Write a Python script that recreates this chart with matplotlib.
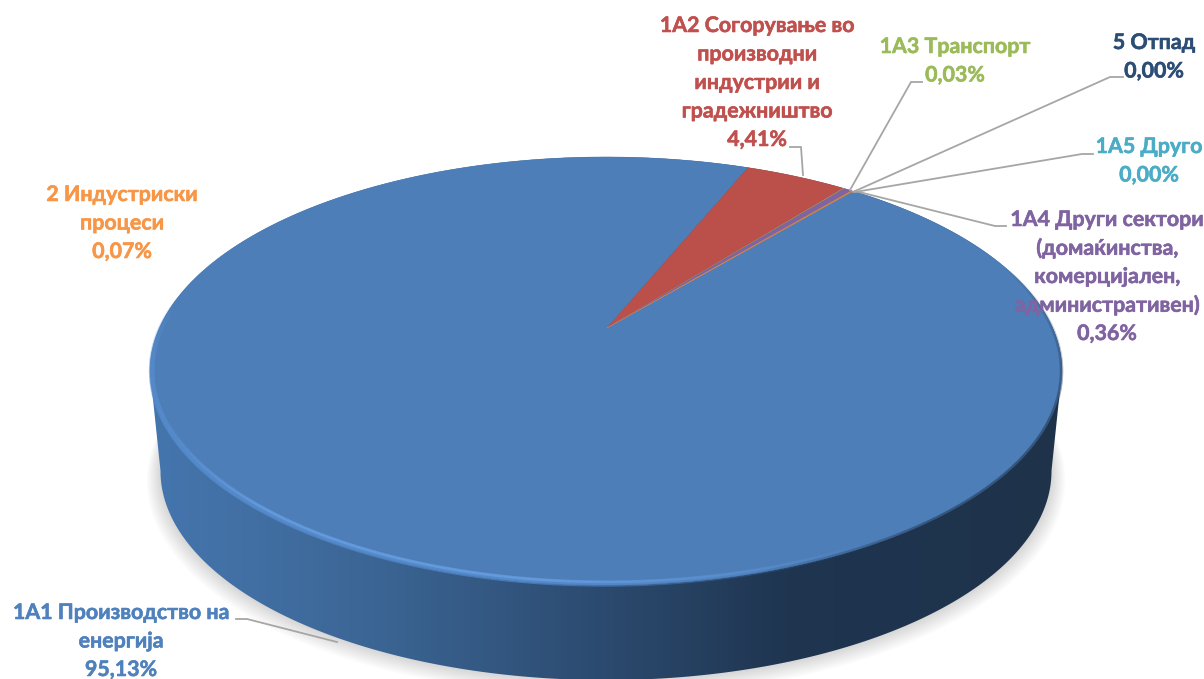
import numpy as np
import matplotlib
matplotlib.use("Agg")
import matplotlib.pyplot as plt
import matplotlib.patheffects as pe
from matplotlib.patches import Polygon
from matplotlib.collections import LineCollection
from matplotlib.colors import LinearSegmentedColormap, to_rgb

plt.rcParams['font.family'] = ['Lato', 'Open Sans', 'DejaVu Sans']

# data
labels = ["1A1 Производство на\nенергија", "1A2 Согорување во\nпроизводни\nиндустрии и\nградежништво",
          "1A3 Транспорт", "1A4 Други сектори\n(домаќинства,\nкомерцијален,\nадминистративен)",
          "1A5 Друго", "2 Индустриски\nпроцеси", "5 Отпад"]
values = [95.13, 4.41, 0.03, 0.36, 0.00, 0.07, 0.00]
pct_text = ["95,13%", "4,41%", "0,03%", "0,36%", "0,00%", "0,07%", "0,00%"]

face_colors = ["#4d7eb8", "#bb4f4a", "#9bbb59", "#8064a2", "#4bacc6", "#e08a45", "#2c4d75"]
text_colors = ["#4f81bd", "#c0504d", "#9bbb59", "#8064a2", "#4bacc6", "#f79646", "#2c4d75"]

# label centre x, y of first line
label_pos = [(121, 613), (757, 26), (955, 47), (1107, 220), (1149, 147), (122, 195), (1154, 43)]

# leader lines
leaders = [
    [(236, 619), (247, 619), (337, 642)],
    [(790, 147), (801, 147), (803, 175)],
    [(922, 82), (911, 82), (850, 190)],
    [(1006, 226), (995, 226), (855, 191)],
    [(1093, 154), (1082, 154), (855, 192)],
    None,
    [(1123, 77), (1110, 77), (853, 192)],
]

# perspective of the disc, in pixels
cx, apex_y, k, b, R = 606, 328, 0.2009, -139.5, 446.7
mid_y, shrink, bottom_mid = 371, 0.977, 471
start_angle = 39.7


def rim(theta, r=1.0):
    t = np.radians(theta)
    u, v = r * np.sin(t), r * np.cos(t)
    d = 1 + k * v
    return cx + R * u / d, (apex_y + b * v) / d


def bottom_rim(theta, grow=0.0):
    x, y = rim(theta)
    return cx + (shrink + grow) * (x - cx), bottom_mid + (shrink + grow) * (y - mid_y)


fig = plt.figure(figsize=(12.04, 6.79), dpi=100)
ax = fig.add_axes([0, 0, 1, 1])
ax.set_xlim(0, 1204)
ax.set_ylim(679, 0)
ax.axis("off")

th = np.linspace(0, 360, 1441)

# soft shadow
for g, off in zip(np.linspace(0.030, 0.002, 10), np.linspace(10, 1, 10)):
    sx, sy = bottom_rim(th, g)
    ax.add_patch(Polygon(np.column_stack((sx, sy + off)), closed=True, fc="black",
                         ec="none", alpha=0.014, zorder=1))

# side wall
tx, ty = rim(th)
bx, by = bottom_rim(th)
il, ir = np.argmin(tx), np.argmax(tx)
low_b = np.arange(il, ir - 1, -1)  # left to right along the front
up_t = np.r_[np.arange(ir, -1, -1), np.arange(len(th) - 1, il - 1, -1)]
side_pts = np.vstack((np.column_stack((bx[low_b], by[low_b])),
                      np.column_stack((tx[up_t], ty[up_t]))))
side = Polygon(side_pts, closed=True, fc="none", ec="none", zorder=2)
ax.add_patch(side)
side_cmap = LinearSegmentedColormap.from_list("side", [
    (0.00, "#4475ad"), (0.10, "#4270a5"), (0.27, "#3a6391"), (0.49, "#2c4b70"),
    (0.70, "#1f3550"), (1.00, "#1e324a")])
img = ax.imshow(np.linspace(0, 1, 512).reshape(1, -1), cmap=side_cmap, aspect="auto",
                extent=(tx.min(), tx.max(), 679, 150), zorder=2, vmin=0, vmax=1)
img.set_clip_path(side)
ax.set_xlim(0, 1204)
ax.set_ylim(679, 0)

# top face, one polygon per slice
a0 = start_angle
for val, col in zip(values, face_colors):
    a1 = a0 + val * 3.6
    if val > 0:
        t = np.linspace(a0, a1, max(int(val * 20), 3))
        x, y = rim(t)
        pts = np.vstack(([(cx + 1, apex_y)], np.column_stack((x, y))))
        ax.add_patch(Polygon(pts, closed=True, fc=col, ec=col, lw=0.3, zorder=3))
    a0 = a1


# bevel along the front of the disc
def rim_band(t0, t1, r, lw, rgb, alpha_fn, z=4):
    t = np.linspace(t0, t1, 400)
    x, y = rim(t, r)
    segs = np.stack((np.column_stack((x[:-1], y[:-1])), np.column_stack((x[1:], y[1:]))), axis=1)
    s = np.linspace(0, 1, len(segs))
    cols = [(*to_rgb(rgb), float(a)) for a in alpha_fn(s)]
    ax.add_collection(LineCollection(segs, colors=cols, linewidths=lw, zorder=z, capstyle="butt"))


fade = lambda s: np.clip(np.minimum(s / 0.15, (1 - s) / 0.3), 0, 1)
rim_band(278, 150, 0.9965, 4.0, "#5b93d8", lambda s: 0.6 * fade(s))
rim_band(278, 150, 0.990, 2.0, "#6aa2e6", lambda s: 0.75 * fade(s) * np.clip((s - 0.25) / 0.2, 0, 1))
# dark soft edge on the right
rim_band(165, 72, 0.999, 2.5, "#1e324a", lambda s: 0.55 * np.clip(np.minimum(s / 0.25, (1 - s) / 0.45), 0, 1))

# leader lines
for pts in leaders:
    if pts is None:
        continue
    p = np.array(pts)
    ax.plot(p[:, 0], p[:, 1], color="#a6a6a6", lw=1.3, zorder=5, solid_joinstyle="miter")

# labels
line_h = 28.5
for lab, pct, col, (lx, ly) in zip(labels, pct_text, text_colors, label_pos):
    for i, line in enumerate((lab + "\n" + pct).split("\n")):
        ax.text(lx, ly + i * line_h, line, color=col, fontsize=15.4, fontweight="bold",
                ha="center", va="center", zorder=6,
                path_effects=[pe.withStroke(linewidth=0.4, foreground=col)])

fig.savefig("out.png", dpi=100)
